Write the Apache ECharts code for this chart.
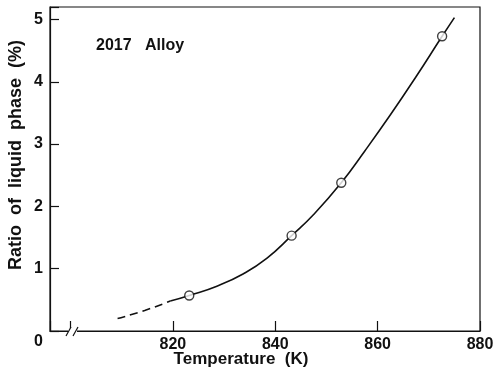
<!DOCTYPE html>
<html>
<head>
<meta charset="utf-8">
<script src="https://cdn.jsdelivr.net/npm/echarts@6/dist/echarts.min.js"></script>
<style>
  html, body { margin: 0; padding: 0; background: #fff; }
  #chart { width: 494px; height: 372px; }
</style>
</head>
<body>
<div id="chart"></div>
<script>
// measured points (circles)
var temps = [823.2, 843.2, 852.9, 872.6];
var ratios = [0.57, 1.53, 2.38, 4.73];

// fitted curve, dashed extrapolation part
var dashT = [809.2, 814.5, 819.5];
var dashR = [0.20, 0.33, 0.48];

// fitted curve, solid part
var curveT = [819.5, 823.2, 828.6, 833.8, 838.4, 843.2, 847.5, 852.9, 857.5, 862.5, 867.5, 872.6, 875.0];
var curveR = [0.48, 0.57, 0.72, 0.92, 1.17, 1.53, 1.87, 2.38, 2.89, 3.47, 4.08, 4.73, 5.03];

var xLabels = [820, 840, 860, 880];
var yLabels = [0, 1, 2, 3, 4, 5];

function pairs(a, b) {
	var out = [];
	for (var i = 0; i < a.length; i++) {
		out.push([a[i], b[i]]);
	}
	return out;
}

var font = '"Liberation Sans", Arial, sans-serif';
var ink = '#111';

var myChart = echarts.init(document.getElementById('chart'));

var option = {
	animation: false,
	backgroundColor: '#fff',
	grid: {
		left: 50, right: 14, top: 7, bottom: 41,
		outerBoundsMode: 'none',
		containLabel: false,
		show: true,
		borderColor: ink,
		borderWidth: 1.2
	},
	xAxis: {
		type: 'value',
		min: 796,
		max: 880,
		name: 'Temperature  (K)',
		nameLocation: 'middle',
		nameGap: 20,
		nameMoveOverlap: false,
		nameTextStyle: { fontFamily: font, fontWeight: 'bold', fontSize: 17, color: ink, padding: [0, 48, 0, 0] },
		axisLine: { show: true, lineStyle: { color: ink, width: 1.2 } },
		axisTick: { show: true, inside: true, length: 10, lineStyle: { color: ink, width: 1.2 } },
		axisLabel: {
			customValues: [796].concat(xLabels),
			margin: 6, fontFamily: font, fontWeight: 'bold', fontSize: 16, color: ink,
			formatter: function (v) {
				return v === 796 ? '' : String(v);
			}
		},
		splitLine: { show: false }
	},
	yAxis: {
		type: 'value',
		min: 0,
		max: 5.2,
		name: 'Ratio  of  liquid  phase  (%)',
		nameLocation: 'middle',
		nameGap: 25,
		nameMoveOverlap: false,
		nameTextStyle: { fontFamily: font, fontWeight: 'bold', fontSize: 18, color: ink, padding: [0, 0, 0, 28] },
		axisLine: { show: true, lineStyle: { color: ink, width: 1.2 } },
		axisTick: { show: true, inside: true, length: 9, lineStyle: { color: ink, width: 1.2 } },
		axisLabel: {
			customValues: yLabels,
			margin: 7,
			fontFamily: font, fontWeight: 'bold', fontSize: 16, color: ink,
			formatter: function (v) {
				return v === 0 ? '{z|0}' : String(v);
			},
			rich: {
				z: { fontFamily: font, fontWeight: 'bold', fontSize: 16, color: ink, padding: [22, 0, 0, 0] }
			}
		},
		splitLine: { show: false }
	},
	graphic: [
		{
			type: 'text',
			left: 96, top: 38, z: 100,
			style: { text: '2017   Alloy', fontFamily: font, fontWeight: 'bold', fontSize: 16, fill: ink }
		},
		// axis break mark
		{ type: 'rect', z: 100, shape: { x: 68, y: 328, width: 9, height: 6 }, style: { fill: '#fff' } },
		{ type: 'line', z: 101, shape: { x1: 66, y1: 336, x2: 71, y2: 327 }, style: { stroke: ink, lineWidth: 1.2 } },
		{ type: 'line', z: 101, shape: { x1: 73, y1: 336, x2: 78, y2: 327 }, style: { stroke: ink, lineWidth: 1.2 } }
	],
	series: [
		{
			type: 'line',
			data: pairs(dashT, dashR),
			smooth: true,
			showSymbol: false,
			lineStyle: { color: ink, width: 1.6, type: [8, 5] }
		},
		{
			type: 'line',
			data: pairs(curveT, curveR),
			smooth: 0.5,
			showSymbol: false,
			lineStyle: { color: ink, width: 1.6 }
		},
		{
			type: 'scatter',
			data: pairs(temps, ratios),
			symbol: 'circle',
			symbolSize: 9,
			itemStyle: { color: '#fff', borderColor: ink, borderWidth: 1.4 },
			z: 5
		}
	]
};
myChart.setOption(option);
</script>
</body>
</html>
